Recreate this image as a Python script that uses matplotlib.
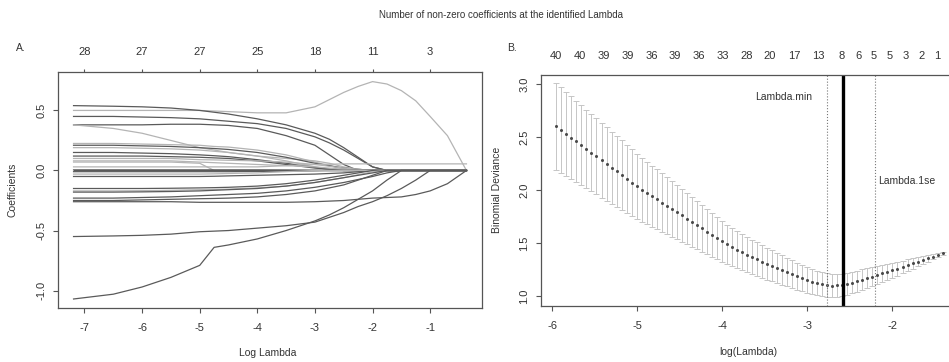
import matplotlib
matplotlib.use("Agg")
from matplotlib import pyplot as plt

plt.rcParams['font.family'] = ['Liberation Sans', 'DejaVu Sans']
plt.rcParams['axes.unicode_minus'] = False

# ---- panel A: coefficient paths ----
log_lambda_a = [-7.19, -6.5, -6.0, -5.5, -5.0, -4.75, -4.5, -4.0, -3.5, -3.0,
                -2.75, -2.5, -2.25, -2.0, -1.75, -1.5, -1.25, -1.0, -0.7, -0.37]
coef_paths = [
    [0.50, 0.50, 0.50, 0.50, 0.50, 0.495, 0.49, 0.48, 0.48, 0.53, 0.59, 0.65, 0.70, 0.74, 0.72, 0.665, 0.58, 0.45, 0.29, 0.0],
    [0.54, 0.535, 0.53, 0.52, 0.50, 0.485, 0.47, 0.43, 0.38, 0.31, 0.26, 0.19, 0.11, 0.03, 0, 0, 0, 0, 0, 0],
    [0.45, 0.45, 0.445, 0.44, 0.43, 0.42, 0.41, 0.39, 0.35, 0.28, 0.23, 0.17, 0.10, 0.03, 0, 0, 0, 0, 0, 0],
    [0.38, 0.38, 0.38, 0.385, 0.385, 0.38, 0.375, 0.35, 0.29, 0.21, 0.13, 0.05, 0, 0, 0, 0, 0, 0, 0, 0],
    [0.38, 0.35, 0.31, 0.25, 0.19, 0.17, 0.15, 0.12, 0.10, 0.08, 0.06, 0.03, 0.01, 0, 0, 0, 0, 0, 0, 0],
    [0.225, 0.225, 0.22, 0.215, 0.21, 0.20, 0.195, 0.17, 0.13, 0.07, 0.04, 0.01, 0, 0, 0, 0, 0, 0, 0, 0],
    [0.21, 0.21, 0.205, 0.20, 0.19, 0.183, 0.175, 0.15, 0.11, 0.06, 0.04, 0.02, 0.01, 0, 0, 0, 0, 0, 0, 0],
    [0.19, 0.19, 0.185, 0.18, 0.17, 0.16, 0.15, 0.12, 0.08, 0.03, 0.01, 0, 0, 0, 0, 0, 0, 0, 0, 0],
    [0.15, 0.15, 0.145, 0.14, 0.13, 0.123, 0.115, 0.09, 0.06, 0.025, 0.01, 0, 0, 0, 0, 0, 0, 0, 0, 0],
    [0.12, 0.12, 0.12, 0.115, 0.11, 0.105, 0.10, 0.08, 0.05, 0.02, 0.01, 0, 0, 0, 0, 0, 0, 0, 0, 0],
    [0.10, 0.10, 0.10, 0.10, 0.09, 0.088, 0.085, 0.08, 0.07, 0.05, 0.035, 0.02, 0.01, 0, 0, 0, 0, 0, 0, 0],
    [0.08, 0.08, 0.08, 0.08, 0.07, 0.065, 0.06, 0.05, 0.04, 0.03, 0.02, 0.01, 0, 0, 0, 0, 0, 0, 0, 0],
    [0.07, 0.07, 0.07, 0.07, 0.06, 0, 0, 0, 0, 0, 0, 0, 0, 0, 0, 0, 0, 0, 0, 0],
    [0.03, 0.03, 0.03, 0.03, 0.03, 0.03, 0.03, 0.03, 0.04, 0.05, 0.052, 0.055, 0.055, 0.055, 0.055, 0.055, 0.055, 0.055, 0.055, 0.055],
    [0, 0, 0, 0, 0, 0, 0, 0, 0, 0, 0, 0, 0, 0, 0, 0, 0, 0, 0, 0],
    [0.005, 0.005, 0.005, 0.005, 0.005, 0.005, 0.005, 0.005, 0.004, 0.002, 0, 0, 0, 0, 0, 0, 0, 0, 0, 0],
    [-0.01, -0.01, -0.01, -0.01, -0.01, -0.01, -0.01, -0.008, -0.005, -0.002, 0, 0, 0, 0, 0, 0, 0, 0, 0, 0],
    [-0.05, -0.05, -0.05, -0.05, -0.05, -0.048, -0.045, -0.04, -0.035, -0.03, -0.025, -0.02, -0.01, 0, 0, 0, 0, 0, 0, 0],
    [-0.03, -0.03, -0.03, -0.03, -0.03, -0.028, -0.025, -0.02, -0.01, 0, 0, 0, 0, 0, 0, 0, 0, 0, 0, 0],
    [-0.15, -0.15, -0.15, -0.148, -0.145, -0.143, -0.14, -0.13, -0.11, -0.08, -0.06, -0.04, -0.02, 0, 0, 0, 0, 0, 0, 0],
    [-0.17, -0.17, -0.168, -0.165, -0.16, -0.158, -0.155, -0.145, -0.13, -0.10, -0.08, -0.06, -0.035, -0.01, 0, 0, 0, 0, 0, 0],
    [-0.18, -0.18, -0.178, -0.175, -0.17, -0.165, -0.16, -0.15, -0.13, -0.10, -0.08, -0.06, -0.04, -0.02, 0, 0, 0, 0, 0, 0],
    [-0.23, -0.23, -0.225, -0.22, -0.21, -0.205, -0.20, -0.19, -0.17, -0.14, -0.12, -0.10, -0.075, -0.05, -0.02, 0, 0, 0, 0, 0],
    [-0.25, -0.25, -0.245, -0.24, -0.235, -0.233, -0.23, -0.22, -0.20, -0.17, -0.145, -0.12, -0.08, -0.04, 0, 0, 0, 0, 0, 0],
    [-0.26, -0.26, -0.26, -0.26, -0.265, -0.265, -0.265, -0.265, -0.265, -0.26, -0.255, -0.25, -0.24, -0.23, -0.225, -0.22, -0.20, -0.17, -0.11, 0],
    [-0.55, -0.545, -0.54, -0.53, -0.51, -0.505, -0.50, -0.48, -0.46, -0.43, -0.39, -0.35, -0.30, -0.26, -0.21, -0.15, -0.08, 0, 0, 0],
    [-1.07, -1.03, -0.97, -0.89, -0.79, -0.64, -0.62, -0.57, -0.50, -0.42, -0.37, -0.31, -0.24, -0.17, -0.08, 0, 0, 0, 0, 0],
]
path_shade = ['l', 'd', 'd', 'd', 'l', 'l', 'd', 'l', 'd', 'd', 'l', 'l', 'l', 'l',
              'd', 'd', 'd', 'd', 'l', 'd', 'l', 'd', 'd', 'd', 'd', 'd', 'd']
top_ticks_a = [-7, -6, -5, -4, -3, -2, -1]
top_labels_a = ['28', '27', '27', '25', '18', '11', '3']

# ---- panel B: cross-validation curve ----
log_lambda_b = [-5.950, -5.891, -5.832, -5.773, -5.714, -5.655, -5.596, -5.537, -5.478, -5.419,
                -5.360, -5.301, -5.242, -5.183, -5.125, -5.066, -5.007, -4.948, -4.889, -4.830,
                -4.771, -4.712, -4.653, -4.594, -4.535, -4.476, -4.417, -4.358, -4.299, -4.240,
                -4.181, -4.122, -4.063, -4.004, -3.945, -3.886, -3.828, -3.769, -3.710, -3.651,
                -3.592, -3.533, -3.474, -3.415, -3.356, -3.297, -3.238, -3.179, -3.120, -3.061,
                -3.002, -2.943, -2.884, -2.825, -2.766, -2.707, -2.648, -2.589, -2.530, -2.471,
                -2.412, -2.353, -2.294, -2.235, -2.177, -2.118, -2.059, -2.000, -1.941, -1.882,
                -1.823, -1.764, -1.705, -1.646, -1.587, -1.528, -1.469, -1.410]
deviance = [2.600, 2.565, 2.529, 2.494, 2.458, 2.423, 2.388, 2.352, 2.317, 2.281,
            2.246, 2.211, 2.175, 2.140, 2.104, 2.069, 2.034, 2.003, 1.973, 1.942,
            1.912, 1.882, 1.851, 1.821, 1.790, 1.760, 1.729, 1.699, 1.668, 1.638,
            1.607, 1.577, 1.546, 1.516, 1.488, 1.461, 1.437, 1.414, 1.391, 1.368,
            1.346, 1.325, 1.305, 1.285, 1.265, 1.245, 1.225, 1.205, 1.186, 1.168,
            1.151, 1.136, 1.123, 1.112, 1.104, 1.099, 1.100, 1.106, 1.115, 1.126,
            1.139, 1.153, 1.168, 1.183, 1.198, 1.213, 1.228, 1.243, 1.259, 1.275,
            1.291, 1.307, 1.323, 1.339, 1.355, 1.371, 1.387, 1.403]
deviance_se = [0.410, 0.403, 0.397, 0.390, 0.384, 0.377, 0.371, 0.364, 0.358, 0.352,
               0.346, 0.340, 0.334, 0.328, 0.322, 0.316, 0.310, 0.303, 0.296, 0.289,
               0.282, 0.275, 0.268, 0.261, 0.254, 0.247, 0.240, 0.233, 0.226, 0.219,
               0.212, 0.205, 0.198, 0.191, 0.186, 0.181, 0.177, 0.172, 0.168, 0.163,
               0.159, 0.155, 0.151, 0.147, 0.143, 0.139, 0.135, 0.131, 0.127, 0.124,
               0.121, 0.118, 0.116, 0.114, 0.112, 0.110, 0.108, 0.106, 0.104, 0.102,
               0.100, 0.098, 0.096, 0.093, 0.089, 0.084, 0.078, 0.072, 0.066, 0.060,
               0.054, 0.048, 0.042, 0.036, 0.031, 0.026, 0.021, 0.016]
top_pos_b = [-5.953, -5.671, -5.390, -5.112, -4.830, -4.553, -4.271, -3.993, -3.715, -3.438,
             -3.156, -2.874, -2.596, -2.405, -2.218, -2.034, -1.845, -1.657, -1.473]
top_labels_b = ['40', '40', '39', '39', '36', '39', '36', '33', '28', '20',
                '17', '13', '8', '6', '5', '5', '3', '2', '1']
lambda_min = -2.77
lambda_sel = -2.58
lambda_1se = -2.21

W, H = 949, 362
fig = plt.figure(figsize=(W / 100, H / 100), dpi=100)
frame = '#555555'
txt = '#333333'

def style_axes(ax):
    for s in ax.spines.values():
        s.set_color(frame)
        s.set_linewidth(0.9)
    ax.tick_params(axis='both', colors=frame, labelcolor=txt, labelsize=8, length=3.5, width=0.8)
    ax.tick_params(axis='x', pad=7)
    ax.tick_params(axis='y', pad=5)
    for lab in ax.get_yticklabels():
        lab.set_rotation(90)
        lab.set_va('center')

# panel A
ax1 = fig.add_axes([58 / W, 1 - 308 / H, 424 / W, 236 / H])
for row, shade in zip(coef_paths, path_shade):
    ax1.plot(log_lambda_a, row, color='#5a5a5a' if shade == 'd' else '#b4b4b4', lw=0.9)
ax1.set_xlim(-7.46, -0.10)
ax1.set_ylim(-1.145, 0.82)
ax1.set_xticks([-7, -6, -5, -4, -3, -2, -1])
ax1.set_yticks([-1.0, -0.5, 0.0, 0.5])
ax1.set_yticklabels(['-1.0', '-0.5', '0.0', '0.5'])
style_axes(ax1)
sec1 = ax1.secondary_xaxis('top')
sec1.set_xticks(top_ticks_a)
sec1.set_xticklabels(top_labels_a)
sec1.tick_params(colors=frame, labelcolor=txt, labelsize=8, length=2.5, width=0.8, pad=8)
sec1.spines['top'].set_visible(False)

# panel B
ax2 = fig.add_axes([541 / W, 1 - 306 / H, 417 / W, 231 / H])
ax2.errorbar(log_lambda_b, deviance, yerr=deviance_se, fmt='none', ecolor='#c6c6c6',
             elinewidth=0.7, capsize=2.2, capthick=0.7)
ax2.plot(log_lambda_b, deviance, 'o', ms=2.2, color='#4a4a4a', mec='none')
ax2.axvline(lambda_min, color='#777777', lw=0.8, ls=':')
ax2.axvline(lambda_1se, color='#777777', lw=0.8, ls=':')
ax2.axvline(lambda_sel, color='black', lw=2.4)
ax2.text(-2.94, 2.873, 'Lambda.min', ha='right', va='center', fontsize=7.5, color=txt)
ax2.text(-2.17, 2.088, 'Lambda.1se', ha='left', va='center', fontsize=7.5, color=txt)
ax2.set_xlim(-6.13, -1.23)
ax2.set_ylim(0.906, 3.085)
ax2.set_xticks([-6, -5, -4, -3, -2])
ax2.set_yticks([1.0, 1.5, 2.0, 2.5, 3.0])
ax2.set_yticklabels(['1.0', '1.5', '2.0', '2.5', '3.0'])
style_axes(ax2)
sec2 = ax2.secondary_xaxis('top')
sec2.set_xticks(top_pos_b)
sec2.set_xticklabels(top_labels_b)
sec2.tick_params(labelcolor=txt, labelsize=8, length=0, pad=10)
sec2.spines['top'].set_visible(False)

# labels and titles
fig.text(501 / W, 1 - 15 / H, 'Number of non-zero coefficients at the identified Lambda',
         ha='center', va='center', fontsize=7, color=txt)
fig.text(16 / W, 1 - 48 / H, 'A.', ha='left', va='center', fontsize=7.5, color=txt)
fig.text(507 / W, 1 - 48 / H, 'B.', ha='left', va='center', fontsize=7.5, color=txt)
fig.text(268 / W, 1 - 353 / H, 'Log Lambda', ha='center', va='center', fontsize=7.5, color=txt)
fig.text(748 / W, 1 - 352 / H, 'log(Lambda)', ha='center', va='center', fontsize=7.5, color=txt)
fig.text(13 / W, 1 - 190 / H, 'Coefficients', ha='center', va='center', rotation=90,
         fontsize=7.5, color=txt)
fig.text(497 / W, 1 - 190 / H, 'Binomial Deviance', ha='center', va='center', rotation=90,
         fontsize=7.5, color=txt)

fig.savefig('out.png', dpi=100)
